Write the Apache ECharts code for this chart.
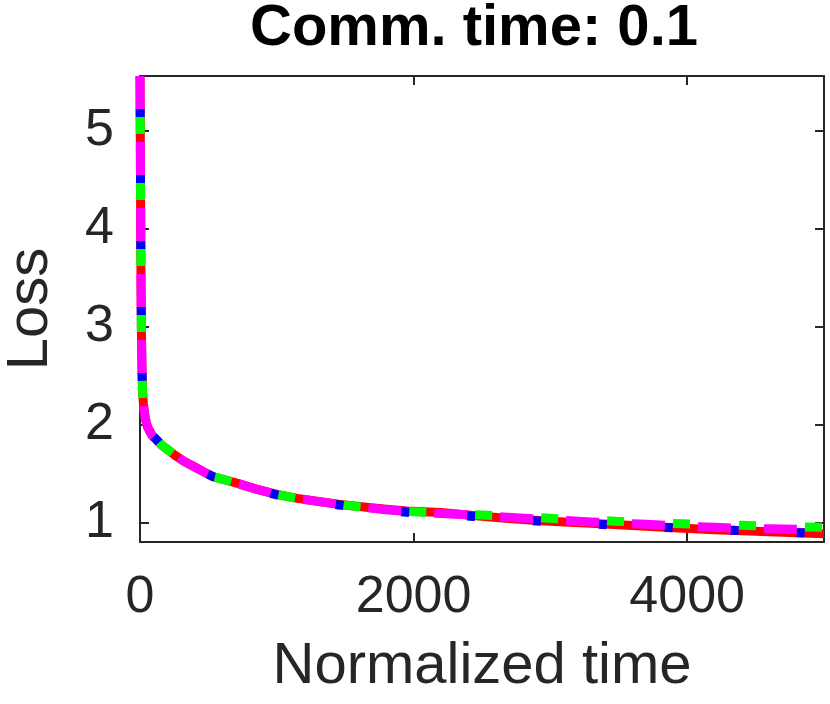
<!DOCTYPE html>
<html>
<head>
<meta charset="utf-8">
<script src="https://cdn.jsdelivr.net/npm/echarts@6/dist/echarts.min.js"></script>
<style>html,body{margin:0;padding:0;background:#fff}#c{width:830px;height:704px}</style>
</head>
<body>
<div id="c"></div>
<script>
const titleText = 'Comm. time: 0.1';
const xName = 'Normalized time';
const yName = 'Loss';
const xTicks = [0, 2000, 4000];
const yTicks = [1, 2, 3, 4, 5];
const xs = [0,2,4,6,8,10,12,14,16,18,20,25,30,37,45,55,70,90,120,160,200,256,320,400,480,536,620,707,850,1000,1150,1292,1450,1600,1800,1950,2200,2437,2650,2900,3100,3300,3500,3700,3972,4200,4400,4600,4800,5000];
const redY = [5.56,5.0,4.4,3.8,3.35,3.0,2.78,2.6,2.48,2.38,2.32,2.22,2.15,2.08,2.03,1.98,1.94,1.89,1.85,1.79,1.75,1.69,1.63,1.57,1.51,1.47,1.44,1.405,1.345,1.29,1.25,1.222,1.19,1.168,1.14,1.122,1.105,1.075,1.05,1.025,1.01,0.995,0.98,0.965,0.945,0.93,0.92,0.91,0.90,0.89];
const blueY = [5.56,5.0,4.4,3.8,3.35,3.0,2.78,2.6,2.48,2.38,2.32,2.22,2.15,2.08,2.03,1.98,1.94,1.89,1.85,1.79,1.75,1.69,1.63,1.57,1.51,1.47,1.44,1.40,1.34,1.285,1.245,1.213,1.183,1.158,1.128,1.108,1.088,1.065,1.045,1.02,1.005,0.99,0.975,0.96,0.945,0.93,0.92,0.91,0.90,0.895];
const greenY = [5.56,5.0,4.4,3.8,3.35,3.0,2.78,2.6,2.48,2.38,2.32,2.22,2.15,2.08,2.03,1.98,1.94,1.89,1.85,1.79,1.75,1.69,1.63,1.57,1.51,1.47,1.44,1.405,1.345,1.29,1.25,1.22,1.19,1.165,1.138,1.118,1.098,1.085,1.07,1.055,1.04,1.03,1.015,1.005,0.99,0.98,0.975,0.965,0.96,0.955];
const magentaY = [5.56,5.0,4.4,3.8,3.35,3.0,2.78,2.6,2.48,2.38,2.32,2.22,2.15,2.08,2.03,1.98,1.94,1.89,1.85,1.79,1.75,1.69,1.63,1.57,1.51,1.47,1.44,1.405,1.345,1.29,1.25,1.22,1.19,1.165,1.135,1.115,1.095,1.08,1.06,1.04,1.025,1.01,0.995,0.985,0.965,0.955,0.945,0.94,0.935,0.93];

const toPairs = ys => xs.map((x, i) => [x, ys[i]]);
const FONT = 'Liberation Sans';
const TXT = '#262626';
const LW = 9;

function ser(name, color, ys, dash, offset, z) {
  return {
    name, type: 'line', data: toPairs(ys), showSymbol: false, symbol: 'none',
    z: z, animation: false,
    lineStyle: { color, width: LW, type: dash, dashOffset: offset, cap: 'butt', join: 'miter' }
  };
}

const chart = echarts.init(document.getElementById('c'), null, { renderer: 'canvas' });
const axisLine = { show: true, onZero: false, lineStyle: { color: TXT, width: 2 } };
chart.setOption({
  backgroundColor: '#fff',
  animation: false,
  title: {
    text: titleText, left: 245, top: -5,
    textStyle: { fontFamily: FONT, fontSize: 58, fontWeight: 'bold', color: '#000' }
  },
  grid: { left: 140, top: 76, right: 6, bottom: 162, containLabel: false, outerBoundsMode: 'none' },
  xAxis: [{
    type: 'value', min: 0, max: 5000, position: 'bottom',
    name: xName, nameLocation: 'middle', nameGap: 96,
    nameTextStyle: { fontFamily: FONT, fontSize: 58, color: TXT },
    axisLine,
    axisTick: { show: true, inside: true, length: 9, customValues: xTicks, lineStyle: { color: TXT, width: 2 } },
    axisLabel: { customValues: xTicks, formatter: v => String(v), fontFamily: FONT, fontSize: 52, color: TXT, margin: 30 },
    splitLine: { show: false }
  }, {
    type: 'value', min: 0, max: 5000, position: 'top',
    axisLine,
    axisTick: { show: true, inside: true, length: 9, customValues: xTicks, lineStyle: { color: TXT, width: 2 } },
    axisLabel: { show: false }, splitLine: { show: false }
  }],
  yAxis: [{
    type: 'value', min: 0.805, max: 5.56, position: 'left',
    name: yName, nameLocation: 'middle', nameGap: 80,
    nameTextStyle: { fontFamily: FONT, fontSize: 58, color: TXT },
    axisLine,
    axisTick: { show: true, inside: true, length: 9, customValues: yTicks, lineStyle: { color: TXT, width: 2 } },
    axisLabel: { customValues: yTicks, formatter: v => String(v), fontFamily: FONT, fontSize: 52, color: TXT, margin: 26 },
    splitLine: { show: false }
  }, {
    type: 'value', min: 0.805, max: 5.56, position: 'right',
    axisLine,
    axisTick: { show: true, inside: true, length: 9, customValues: yTicks, lineStyle: { color: TXT, width: 2 } },
    axisLabel: { show: false }, splitLine: { show: false }
  }],
  series: [
    ser('red', '#ff0000', redY, 'solid', 0, 2),
    ser('blue', '#0000ff', blueY, [8, 58], 33, 3),
    ser('green', '#00ff00', greenY, [17, 49], 25, 4),
    ser('magenta', '#ff00ff', magentaY, [33, 33], 0, 5)
  ]
});
</script>
</body>
</html>
